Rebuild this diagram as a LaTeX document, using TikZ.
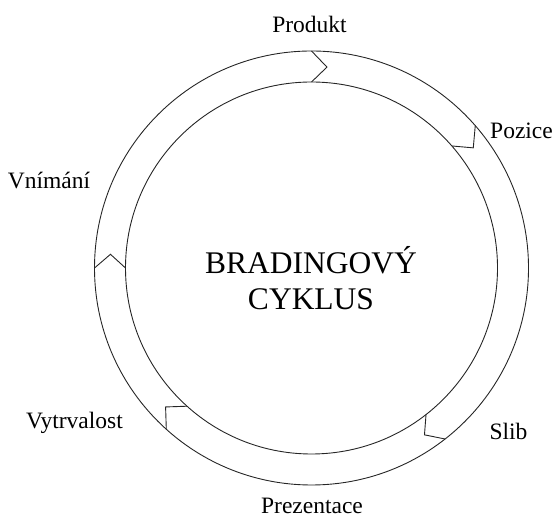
\documentclass[tikz,border=0pt]{standalone}
\usepackage{fontspec}
\setmainfont{Liberation Serif}
\usepackage{tikz}
\usetikzlibrary{calc}

\begin{document}
\begin{tikzpicture}[x=1pt,y=1pt,line width=0.9pt,draw=black!85]
            \tikzset{ring/.style={circle, draw, inner sep=0pt, outer sep=0pt},
                     lbl/.style={anchor=base, inner sep=0pt, font=\fontsize{23.5}{27}\selectfont}}
            \useasboundingbox (0,0) rectangle (553,518);
            \coordinate (C) at (311.5,250);
            \node[ring, minimum size=434pt] (outer) at (C) {};
            \node[ring, minimum size=372pt] (inner) at (C) {};
            % arrow notches across the band
            \foreach \a in {90,41,308.5,228,180.5}
                \draw (outer.\a) -- ($(C)+({\a-4.4}:201.5)$) -- (inner.\a);
            \node[align=center, font=\fontsize{31.5}{36}\selectfont] (title) at (311,240) {BRADINGOVÝ\\CYKLUS};
            \node[lbl] (produkt) at (309.5,485) {Produkt};
            \node[lbl] (pozice) at (521.5,379) {Pozice};
            \node[lbl] (slib) at (508.5,78) {Slib};
            \node[lbl] (prezentace) at (312,4) {Prezentace};
            \node[lbl] (vytrvalost) at (74.5,89) {Vytrvalost};
            \node[lbl] (vnimani) at (49,329) {Vnímání};
        \end{tikzpicture}
\end{document}
